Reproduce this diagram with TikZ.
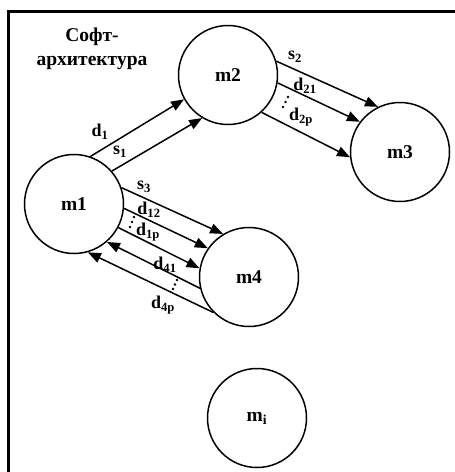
\documentclass[tikz,border=0pt]{standalone}
\usepackage{fontspec}
\setmainfont{Liberation Serif}
\usetikzlibrary{arrows.meta}
\begin{document}
\begin{tikzpicture}[x=1pt,y=-1pt,
  module/.style={circle,draw,line width=1.5pt,minimum size=99pt,inner sep=0pt,
    font=\fontsize{19.5}{22}\selectfont\bfseries},
  flow/.style={line width=1.5pt,-{Triangle[length=13pt,width=10pt]}},
  lbl/.style={inner sep=0pt,font=\fontsize{18}{20}\selectfont\bfseries},
  frame/.style={line width=2.6pt},
  dot/.style={fill=black,draw=none}]
\useasboundingbox (0,0) rectangle (455,472);
% frame (left and top edges)
\draw[frame] (8.5,472) -- (8.5,11.5) -- (455,11.5);
% title
\node[lbl,font=\fontsize{19.5}{24}\selectfont\bfseries,align=center] (title) at (92,49)
  {Софт-\\архитектура};
% modules
\node[module] (m1) at (74,204) {m1};
\node[module] (m2) at (228,75) {m2};
\node[module] (m3) at (400,152) {m3};
\node[module] (m4) at (249,277) {m4};
\node[module] (mi) at (257,418) {m\textsubscript{i}};
% m1 -> m2
\draw[flow] (m1.71) -- (m2.209);
\draw[flow] (m1.41) -- (m2.239);
% m2 -> m3
\draw[flow] (m2.16) -- (m3.116);
\draw[flow] (m2.351) -- (m3.143);
\draw[flow] (m2.312) -- (m3.186);
% m1 -> m4
\draw[flow] (m1.19) -- (m4.121);
\draw[flow] (m1.355) -- (m4.145);
\draw[flow] (m1.332) -- (m4.170);
% m4 -> m1
\draw[flow] (m4.193) -- (m1.311);
\draw[flow] (m4.225) -- (m1.286);
% labels
\node[lbl] (ld1) at (100,132) {d\textsubscript{1}};
\node[lbl] (ls1) at (120,152) {s\textsubscript{1}};
\node[lbl] (ls2) at (295,57) {s\textsubscript{2}};
\node[lbl] (ld21) at (305,86) {d\textsubscript{21}};
\node[lbl] (ld2p) at (301,117) {d\textsubscript{2p}};
\node[lbl] (ls3) at (144,187) {s\textsubscript{3}};
\node[lbl] (ld12) at (149,210) {d\textsubscript{12}};
\node[lbl] (ld1p) at (148,232) {d\textsubscript{1p}};
\node[lbl] (ld41) at (165,265) {d\textsubscript{41}};
\node[lbl] (ld4p) at (163,305) {d\textsubscript{4p}};
% vertical ellipses
\foreach \x/\y in {288/97, 285.5/102, 283/107, 134/217, 132/222, 130/227, 177/280, 175/284.5, 173/289}
  \fill[dot] (\x,\y) circle (1.3pt);
\end{tikzpicture}
\end{document}
